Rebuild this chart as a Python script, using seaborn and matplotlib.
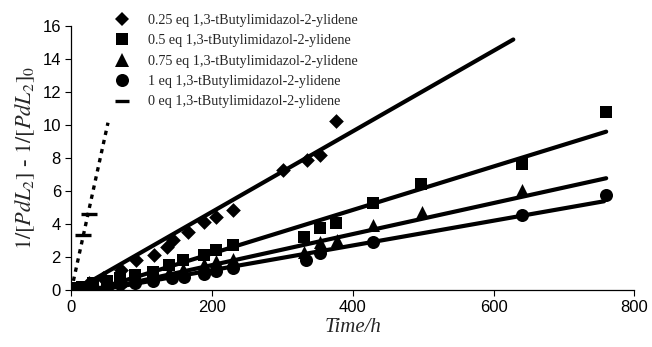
import numpy as np
import pandas as pd
import matplotlib
matplotlib.use("Agg")
import matplotlib.pyplot as plt
import seaborn as sns
from matplotlib.lines import Line2D

# ---------------- data ----------------
series_labels = [
    "0.25 eq 1,3-tButylimidazol-2-ylidene",
    "0.5 eq 1,3-tButylimidazol-2-ylidene",
    "0.75 eq 1,3-tButylimidazol-2-ylidene",
    "1 eq 1,3-tButylimidazol-2-ylidene",
    "0 eq 1,3-tButylimidazol-2-ylidene",
]

time_025 = [0, 10, 25, 45, 70, 92, 117, 136, 145, 166, 189, 206, 229, 301, 335, 353, 376]
val_025 = [0, 0.15, 0.4, 0.75, 1.2, 1.8, 2.1, 2.6, 3.0, 3.5, 4.1, 4.45, 4.85, 7.27, 7.88, 8.18, 10.24]

time_05 = [0, 3, 15, 31, 50, 69, 90, 116, 138, 159, 188, 206, 229, 331, 354, 376, 428, 497, 640, 760]
val_05 = [0, 0.1, 0.2, 0.4, 0.55, 0.7, 0.9, 1.1, 1.5, 1.8, 2.15, 2.45, 2.73, 3.23, 3.74, 4.04, 5.25, 6.42, 7.64, 10.77]

time_075 = [0, 15, 31, 50, 69, 90, 116, 138, 159, 188, 206, 229, 331, 354, 378, 428, 498, 640]
val_075 = [0, 0.1, 0.25, 0.4, 0.55, 0.7, 0.9, 1.1, 1.3, 1.55, 1.75, 1.9, 2.3, 2.9, 3.0, 3.94, 4.75, 6.06]

time_1 = [0, 15, 31, 50, 69, 90, 116, 143, 160, 189, 206, 229, 334, 354, 429, 640, 760]
val_1 = [0, 0.1, 0.15, 0.25, 0.35, 0.45, 0.55, 0.7, 0.8, 0.97, 1.17, 1.31, 1.82, 2.26, 2.93, 4.55, 5.74]

time_0 = [0, 16, 25]
val_0 = [0, 3.33, 4.6]

# linear trend lines: slope, intercept, last time
trend_slope = [0.0244, 0.01318, 0.0094, 0.0075, 0.195]
trend_intercept = [-0.14, -0.42, -0.37, -0.30, 0.0]
trend_end = [628, 760, 760, 757, 52]

x_ticks = [0, 200, 400, 600, 800]
y_ticks = [0, 2, 4, 6, 8, 10, 12, 14, 16]

# ---------------- styling ----------------
markers = ["D", "s", "^", "o", "_"]
msizes = [56, 74, 88, 88, 120]

sns.set_theme(style="ticks")
plt.rcParams["font.family"] = ["Liberation Sans", "DejaVu Sans"]
plt.rcParams["mathtext.fontset"] = "stix"

fig = plt.figure(figsize=(6.52, 3.47), dpi=100)
ax = fig.add_axes([0.1095, 0.1643, 0.8634, 0.7607])

times = [time_025, time_05, time_075, time_1, time_0]
vals = [val_025, val_05, val_075, val_1, val_0]

for i, lab in enumerate(series_labels):
    df = pd.DataFrame({"t": times[i], "y": vals[i]})
    if markers[i] == "_":
        sns.scatterplot(data=df, x="t", y="y", ax=ax, marker="_", s=msizes[i],
                        color="black", linewidth=2.4, zorder=3)
    else:
        sns.scatterplot(data=df, x="t", y="y", ax=ax, marker=markers[i], s=msizes[i],
                        color="black", edgecolor="black", linewidth=0, zorder=3)
    tl = pd.DataFrame({"t": [0, trend_end[i]]})
    tl["y"] = trend_slope[i] * tl["t"] + trend_intercept[i]
    if i == 4:
        sns.lineplot(data=tl, x="t", y="y", ax=ax, color="black", lw=2.4,
                     dashes=False, linestyle=(0, (1.3, 1.5)), zorder=2)
    else:
        sns.lineplot(data=tl, x="t", y="y", ax=ax, color="black", lw=3.0,
                     solid_capstyle="round", zorder=2)

ax.set_xlim(0, 800)
ax.set_ylim(0, 16)
ax.set_xticks(x_ticks)
ax.set_yticks(y_ticks)
ax.tick_params(axis="both", labelsize=12, length=4, width=0.8, colors="black", direction="out")
for s in ["top", "right"]:
    ax.spines[s].set_visible(False)
for s in ["left", "bottom"]:
    ax.spines[s].set_color("black")
    ax.spines[s].set_linewidth(0.9)

ax.set_xlabel("Time/h", fontsize=15, fontstyle="italic", family=["Liberation Serif"], labelpad=2)
ax.set_ylabel(r"$1/[PdL_2]$ - $1/[PdL_2]_0$", fontsize=16, family=["Liberation Serif"], labelpad=4)

handles = []
for i, lab in enumerate(series_labels):
    if markers[i] == "_":
        h = Line2D([], [], linestyle="none", marker="_", markersize=10, markeredgewidth=2.4, color="black")
    else:
        h = Line2D([], [], linestyle="none", marker=markers[i], markersize=np.sqrt(msizes[i]),
                   color="black", markeredgewidth=0)
    handles.append(h)
leg = ax.legend(handles, series_labels, loc="upper left", bbox_to_anchor=(115 / 652, 1 - 14 / 347),
                bbox_transform=fig.transFigure, frameon=False, handlelength=1.0,
                handletextpad=1.3, labelspacing=0.52, borderpad=0, borderaxespad=0,
                prop={"family": ["Liberation Serif"], "size": 10.2})

fig.savefig("out.png", dpi=100, facecolor="white")
